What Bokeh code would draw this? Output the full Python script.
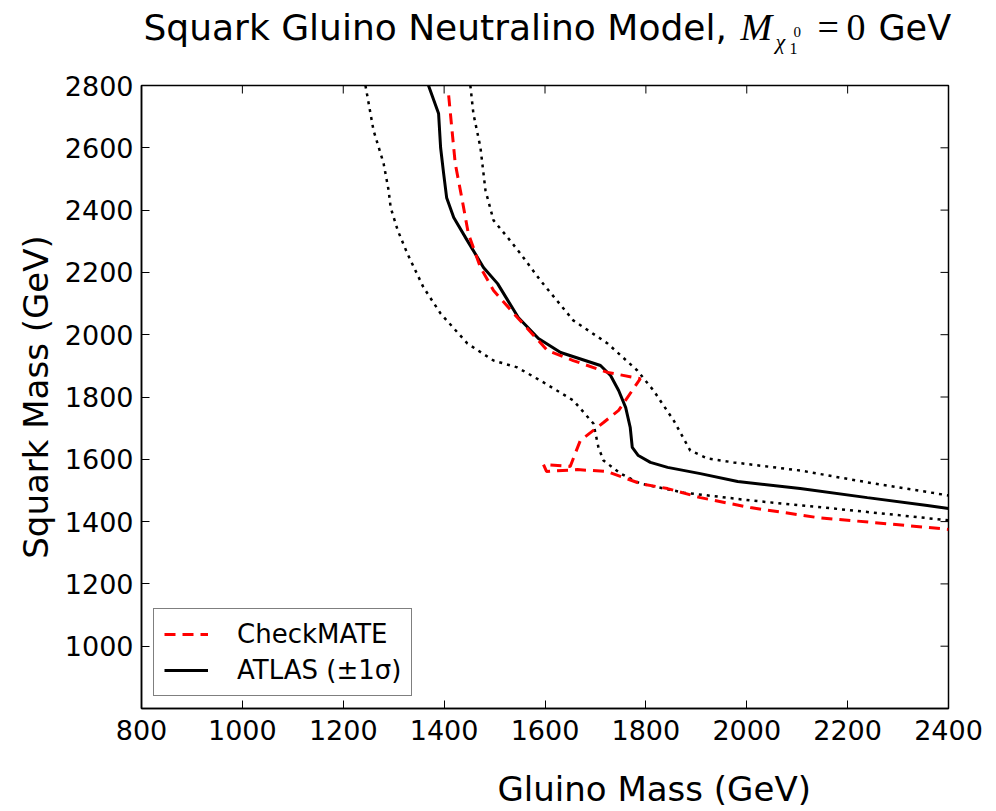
from bokeh.plotting import figure
from bokeh.layouts import column
from bokeh.models import Range1d, FixedTicker, Label, Legend, LegendItem
from bokeh.embed import file_html
from bokeh.resources import INLINE

# ---------------- data ----------------
x_ticks = [800, 1000, 1200, 1400, 1600, 1800, 2000, 2200, 2400]
y_ticks = [1000, 1200, 1400, 1600, 1800, 2000, 2200, 2400, 2600, 2800]

atlas_x = [1369, 1389, 1393, 1399, 1405, 1419, 1446, 1478, 1506, 1547, 1587, 1631,
           1710, 1730, 1746, 1760, 1769, 1773, 1785, 1809, 1843, 1908, 1982, 2106,
           2239, 2358, 2400]
atlas_y = [2800, 2710, 2601, 2518, 2440, 2376, 2302, 2216, 2164, 2055, 1988, 1943,
           1901, 1869, 1821, 1766, 1702, 1638, 1612, 1590, 1574, 1554, 1529, 1506,
           1477, 1452, 1442]

atlas_plus_x = [1452, 1458, 1472, 1482, 1498, 1526, 1551, 1591, 1656, 1724, 1783,
                1815, 1855, 1888, 1922, 1974, 2106, 2239, 2400]
atlas_plus_y = [2800, 2710, 2601, 2463, 2367, 2312, 2261, 2174, 2046, 1972, 1885,
                1821, 1725, 1628, 1603, 1590, 1564, 1526, 1484]

atlas_minus_x = [1244, 1260, 1280, 1290, 1294, 1308, 1327, 1359, 1393, 1446, 1498,
                 1545, 1597, 1656, 1696, 1706, 1716, 1750, 1789, 1875, 2007, 2172,
                 2305, 2400]
atlas_minus_y = [2800, 2656, 2550, 2463, 2408, 2335, 2261, 2152, 2068, 1972, 1917,
                 1895, 1847, 1789, 1715, 1638, 1596, 1554, 1522, 1493, 1468, 1442,
                 1420, 1404]

checkmate_x = [1409, 1422, 1436, 1448, 1472, 1498, 1547, 1605, 1656, 1724, 1789,
               1773, 1746, 1716, 1670, 1660, 1650, 1597, 1603, 1664, 1722, 1789,
               1843, 1908, 2007, 2140, 2271, 2400]
checkmate_y = [2768, 2550, 2431, 2325, 2216, 2142, 2052, 1949, 1917, 1879, 1859,
               1821, 1757, 1718, 1660, 1619, 1577, 1583, 1561, 1567, 1561, 1522,
               1506, 1477, 1445, 1413, 1394, 1375]

# ---------------- layout constants ----------------
W = 996
TITLE_H = 70          # strip holding the title
FT = 15               # main plot top border -> frame top at 85
MAIN_H = 688          # main plot (frame 623 px tall)
XLAB_H = 811 - TITLE_H - MAIN_H
X0, X1, Y0, Y1 = 800, 2400, 800, 2800
FL, FR, FB = 141, 48, 50
fw = W - FL - FR
fh = MAIN_H - FT - FB


def strip(height):
    f = figure(width=W, height=height, output_backend="svg", toolbar_location=None,
               title=None, x_range=Range1d(0, W), y_range=Range1d(height, 0),
               x_axis_type=None, y_axis_type=None,
               min_border=0, min_border_left=0, min_border_right=0,
               min_border_top=0, min_border_bottom=0, frame_align=False)
    f.outline_line_color = None
    f.xgrid.visible = False
    f.ygrid.visible = False
    f.background_fill_color = "white"
    f.border_fill_color = "white"
    return f


def lab(f, text, px, baseline, font, size, style="normal"):
    # the label is rendered about 0.35 em below the requested y, so compensate
    fs = float(size.replace("px", ""))
    f.add_layout(Label(x=px, y=baseline - 0.35 * fs, text=text, text_font=font,
                       text_font_size=size, text_font_style=style,
                       text_align="left", text_baseline="alphabetic",
                       text_color="black"))


# ---------------- title strip (y = canvas pixel row of the baseline) ----------------
t = strip(TITLE_H)
lab(t, "Squark Gluino Neutralino Model,", 143, 40, "DejaVu Sans", "36px")
lab(t, "M", 740, 40, "Liberation Serif", "38px", "italic")
lab(t, "χ", 775, 49, "Liberation Serif", "22px", "italic")
lab(t, "1", 789, 54, "Liberation Serif", "16px")
lab(t, "0", 793, 37, "Liberation Serif", "15px")
lab(t, "=", 817, 40, "Liberation Serif", "38px")
lab(t, "0", 846, 40, "Liberation Serif", "38px")
lab(t, "GeV", 878, 40, "DejaVu Sans", "35px")

# ---------------- main plot ----------------
p = figure(width=W, height=MAIN_H, output_backend="svg", toolbar_location=None,
           title=None, x_range=Range1d(X0, X1), y_range=Range1d(Y0, Y1),
           min_border_left=FL, min_border_right=FR, min_border_top=FT,
           min_border_bottom=FB, frame_align=False)
p.xgrid.visible = False
p.ygrid.visible = False
p.outline_line_color = "black"
p.outline_line_width = 1.5
p.background_fill_color = "white"
p.border_fill_color = "white"


def style_axis(ax, ticks, standoff):
    ax.ticker = FixedTicker(ticks=ticks)
    ax.major_tick_in = 8
    ax.major_tick_out = 0
    ax.minor_tick_in = 0
    ax.minor_tick_out = 0
    ax.axis_line_color = "black"
    ax.axis_line_width = 1.5
    ax.major_tick_line_color = "black"
    ax.major_tick_line_width = 1
    ax.major_label_text_font = "DejaVu Sans"
    ax.major_label_text_color = "black"
    ax.major_label_text_font_size = "27px"
    ax.major_label_standoff = standoff


style_axis(p.xaxis[0], x_ticks, 11)
style_axis(p.yaxis[0], y_ticks, 8)
p.yaxis.axis_label = "Squark Mass (GeV)"
p.yaxis.axis_label_text_font = "DejaVu Sans"
p.yaxis.axis_label_text_font_size = "34px"
p.yaxis.axis_label_text_font_style = "normal"
p.yaxis.axis_label_text_color = "black"
p.yaxis.axis_label_standoff = 6

# inward ticks on the top and right edges (same tick values as the axes)
tlx = 8 * (X1 - X0) / fw
tly = 8 * (Y1 - Y0) / fh
p.segment(x0=x_ticks, y0=[Y1] * len(x_ticks), x1=x_ticks,
          y1=[Y1 - tly] * len(x_ticks), line_color="black", line_width=1)
p.segment(x0=[X1] * len(y_ticks), y0=y_ticks, x1=[X1 - tlx] * len(y_ticks),
          y1=y_ticks, line_color="black", line_width=1)

# ---------------- lines ----------------
p.line(atlas_minus_x, atlas_minus_y, line_color="black", line_width=2.5,
       line_dash="3 5")
p.line(atlas_plus_x, atlas_plus_y, line_color="black", line_width=2.5,
       line_dash="3 5")
r_at = p.line(atlas_x, atlas_y, line_color="black", line_width=3)
r_cm = p.line(checkmate_x, checkmate_y, line_color="#ff0000", line_width=3,
              line_dash="11 7")

legend = Legend(items=[LegendItem(label="CheckMATE", renderers=[r_cm]),
                       LegendItem(label="ATLAS (±1σ)", renderers=[r_at])],
                location="bottom_left", margin=12, padding=10, spacing=6,
                glyph_width=44, glyph_height=26, label_height=26,
                label_standoff=29, label_text_font="DejaVu Sans",
                label_text_font_size="26px", label_text_color="black",
                border_line_color="black", border_line_width=1.5,
                background_fill_color="white", background_fill_alpha=1)
p.add_layout(legend)

# ---------------- x-axis label strip ----------------
b = strip(XLAB_H)
lab(b, "Gluino Mass (GeV)", 497, 800 - TITLE_H - MAIN_H, "DejaVu Sans", "34px")

layout = column(t, p, b, spacing=0)
open("out.html", "w").write(file_html(layout, INLINE))
